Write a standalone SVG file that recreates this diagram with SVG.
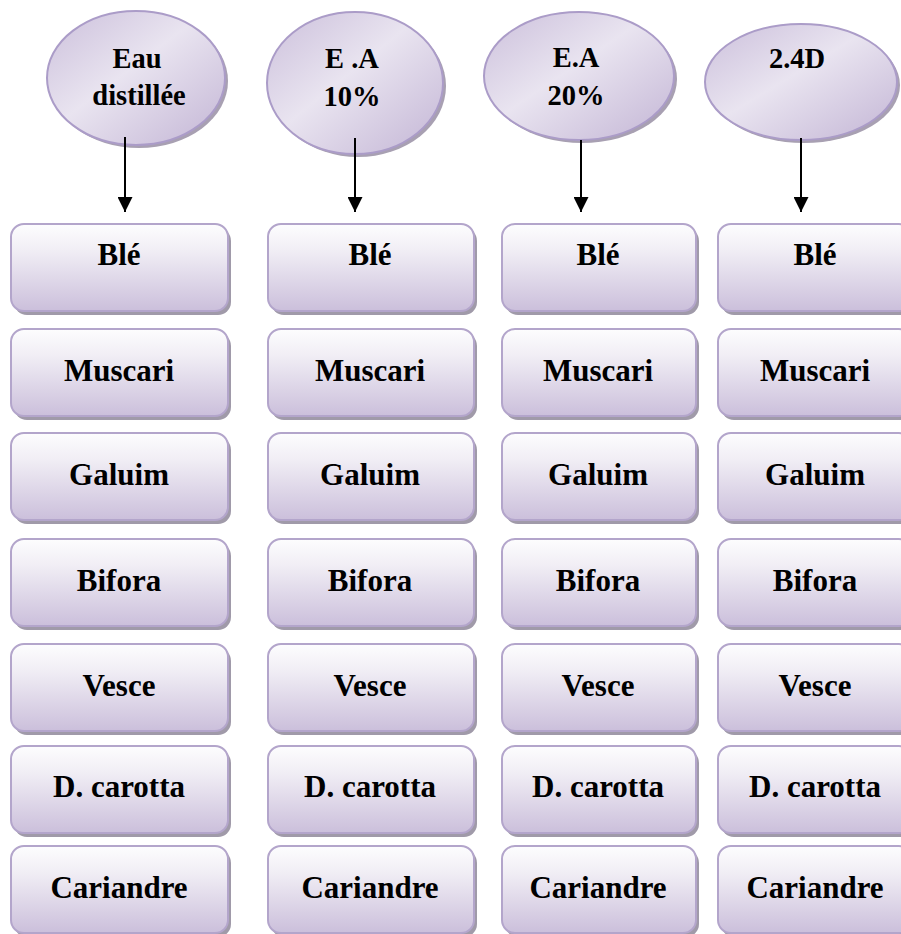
<svg xmlns="http://www.w3.org/2000/svg" width="901" height="934" viewBox="0 0 901 934">
<defs>
<linearGradient id="boxg" x1="0" y1="0" x2="0" y2="1">
<stop offset="0" stop-color="#fdfdfe"/>
<stop offset="0.3" stop-color="#f1eef5"/>
<stop offset="1" stop-color="#cbbfdb"/>
</linearGradient>
<linearGradient id="ellg" x1="0" y1="0" x2="1" y2="1">
<stop offset="0" stop-color="#cbbfdb"/>
<stop offset="0.45" stop-color="#e9e4f0"/>
<stop offset="1" stop-color="#c3b5d5"/>
</linearGradient>
<marker id="arr" viewBox="0 0 14 14" markerWidth="15" markerHeight="15" refX="14" refY="7" orient="auto" markerUnits="userSpaceOnUse">
<path d="M0,0 L14,7 L0,14 Z" fill="#000"/>
</marker>
</defs>
<style>
.box{fill:url(#boxg);stroke:#b3a5cb;stroke-width:2}
.sh{fill:#a09aa9}
.ell{fill:url(#ellg);stroke:#ab9cc8;stroke-width:2}
.esh{fill:#a8a0b2}
.t{font-family:"Liberation Serif","Times New Roman",serif;font-weight:bold;font-size:31px;fill:#000;text-anchor:middle}
.te{font-family:"Liberation Serif","Times New Roman",serif;font-weight:bold;font-size:28.5px;fill:#000;text-anchor:middle}
.c{stroke:#000;stroke-width:2;fill:none}
</style>

<g id="e1"><ellipse class="esh" cx="139" cy="81" rx="89" ry="67"/><ellipse class="ell" cx="136" cy="78" rx="89" ry="67"/><text class="te" x="137" y="68">Eau</text><text class="te" x="139" y="105">distillée</text></g>
<g id="e2"><ellipse class="esh" cx="358" cy="86" rx="88" ry="71"/><ellipse class="ell" cx="355" cy="83" rx="88" ry="71"/><text class="te" x="352" y="68">E .A</text><text class="te" x="352" y="106">10%</text></g>
<g id="e3"><ellipse class="esh" cx="582" cy="79" rx="95" ry="64"/><ellipse class="ell" cx="579" cy="76" rx="95" ry="64"/><text class="te" x="576" y="67">E.A</text><text class="te" x="576" y="105">20%</text></g>
<g id="e4"><ellipse class="esh" cx="804" cy="85" rx="96" ry="58"/><ellipse class="ell" cx="801" cy="82" rx="96" ry="58"/><text class="te" x="797" y="68">2.4D</text></g>

<g id="connectors">
<line class="c" x1="125" y1="137" x2="125" y2="212" marker-end="url(#arr)"/>
<line class="c" x1="355" y1="138" x2="355" y2="212" marker-end="url(#arr)"/>
<line class="c" x1="581" y1="140" x2="581" y2="212" marker-end="url(#arr)"/>
<line class="c" x1="801" y1="138" x2="801" y2="212" marker-end="url(#arr)"/>
</g>

<!-- column 1 -->
<g id="c1r1"><rect class="sh" x="14" y="228" width="217" height="87" rx="13"/><rect class="box" x="11" y="224" width="217" height="87" rx="13"/><text class="t" x="119" y="265">Blé</text></g>
<g id="c1r2"><rect class="sh" x="14" y="333" width="217" height="87" rx="13"/><rect class="box" x="11" y="329" width="217" height="87" rx="13"/><text class="t" x="119" y="381">Muscari</text></g>
<g id="c1r3"><rect class="sh" x="14" y="437" width="217" height="87" rx="13"/><rect class="box" x="11" y="433" width="217" height="87" rx="13"/><text class="t" x="119" y="485">Galuim</text></g>
<g id="c1r4"><rect class="sh" x="14" y="543" width="217" height="87" rx="13"/><rect class="box" x="11" y="539" width="217" height="87" rx="13"/><text class="t" x="119" y="591">Bifora</text></g>
<g id="c1r5"><rect class="sh" x="14" y="648" width="217" height="87" rx="13"/><rect class="box" x="11" y="644" width="217" height="87" rx="13"/><text class="t" x="119" y="696">Vesce</text></g>
<g id="c1r6"><rect class="sh" x="14" y="750" width="217" height="87" rx="13"/><rect class="box" x="11" y="746" width="217" height="87" rx="13"/><text class="t" x="119" y="797">D. carotta</text></g>
<g id="c1r7"><rect class="sh" x="14" y="850" width="217" height="87" rx="13"/><rect class="box" x="11" y="846" width="217" height="87" rx="13"/><text class="t" x="119" y="898">Cariandre</text></g>

<!-- column 2 -->
<g id="c2r1"><rect class="sh" x="271" y="228" width="206" height="87" rx="13"/><rect class="box" x="268" y="224" width="206" height="87" rx="13"/><text class="t" x="370" y="265">Blé</text></g>
<g id="c2r2"><rect class="sh" x="271" y="333" width="206" height="87" rx="13"/><rect class="box" x="268" y="329" width="206" height="87" rx="13"/><text class="t" x="370" y="381">Muscari</text></g>
<g id="c2r3"><rect class="sh" x="271" y="437" width="206" height="87" rx="13"/><rect class="box" x="268" y="433" width="206" height="87" rx="13"/><text class="t" x="370" y="485">Galuim</text></g>
<g id="c2r4"><rect class="sh" x="271" y="543" width="206" height="87" rx="13"/><rect class="box" x="268" y="539" width="206" height="87" rx="13"/><text class="t" x="370" y="591">Bifora</text></g>
<g id="c2r5"><rect class="sh" x="271" y="648" width="206" height="87" rx="13"/><rect class="box" x="268" y="644" width="206" height="87" rx="13"/><text class="t" x="370" y="696">Vesce</text></g>
<g id="c2r6"><rect class="sh" x="271" y="750" width="206" height="87" rx="13"/><rect class="box" x="268" y="746" width="206" height="87" rx="13"/><text class="t" x="370" y="797">D. carotta</text></g>
<g id="c2r7"><rect class="sh" x="271" y="850" width="206" height="87" rx="13"/><rect class="box" x="268" y="846" width="206" height="87" rx="13"/><text class="t" x="370" y="898">Cariandre</text></g>

<!-- column 3 -->
<g id="c3r1"><rect class="sh" x="505" y="228" width="194" height="87" rx="13"/><rect class="box" x="502" y="224" width="194" height="87" rx="13"/><text class="t" x="598" y="265">Blé</text></g>
<g id="c3r2"><rect class="sh" x="505" y="333" width="194" height="87" rx="13"/><rect class="box" x="502" y="329" width="194" height="87" rx="13"/><text class="t" x="598" y="381">Muscari</text></g>
<g id="c3r3"><rect class="sh" x="505" y="437" width="194" height="87" rx="13"/><rect class="box" x="502" y="433" width="194" height="87" rx="13"/><text class="t" x="598" y="485">Galuim</text></g>
<g id="c3r4"><rect class="sh" x="505" y="543" width="194" height="87" rx="13"/><rect class="box" x="502" y="539" width="194" height="87" rx="13"/><text class="t" x="598" y="591">Bifora</text></g>
<g id="c3r5"><rect class="sh" x="505" y="648" width="194" height="87" rx="13"/><rect class="box" x="502" y="644" width="194" height="87" rx="13"/><text class="t" x="598" y="696">Vesce</text></g>
<g id="c3r6"><rect class="sh" x="505" y="750" width="194" height="87" rx="13"/><rect class="box" x="502" y="746" width="194" height="87" rx="13"/><text class="t" x="598" y="797">D. carotta</text></g>
<g id="c3r7"><rect class="sh" x="505" y="850" width="194" height="87" rx="13"/><rect class="box" x="502" y="846" width="194" height="87" rx="13"/><text class="t" x="598" y="898">Cariandre</text></g>

<!-- column 4 -->
<g id="c4r1"><rect class="sh" x="721" y="228" width="194" height="87" rx="13"/><rect class="box" x="718" y="224" width="194" height="87" rx="13"/><text class="t" x="815" y="265">Blé</text></g>
<g id="c4r2"><rect class="sh" x="721" y="333" width="194" height="87" rx="13"/><rect class="box" x="718" y="329" width="194" height="87" rx="13"/><text class="t" x="815" y="381">Muscari</text></g>
<g id="c4r3"><rect class="sh" x="721" y="437" width="194" height="87" rx="13"/><rect class="box" x="718" y="433" width="194" height="87" rx="13"/><text class="t" x="815" y="485">Galuim</text></g>
<g id="c4r4"><rect class="sh" x="721" y="543" width="194" height="87" rx="13"/><rect class="box" x="718" y="539" width="194" height="87" rx="13"/><text class="t" x="815" y="591">Bifora</text></g>
<g id="c4r5"><rect class="sh" x="721" y="648" width="194" height="87" rx="13"/><rect class="box" x="718" y="644" width="194" height="87" rx="13"/><text class="t" x="815" y="696">Vesce</text></g>
<g id="c4r6"><rect class="sh" x="721" y="750" width="194" height="87" rx="13"/><rect class="box" x="718" y="746" width="194" height="87" rx="13"/><text class="t" x="815" y="797">D. carotta</text></g>
<g id="c4r7"><rect class="sh" x="721" y="850" width="194" height="87" rx="13"/><rect class="box" x="718" y="846" width="194" height="87" rx="13"/><text class="t" x="815" y="898">Cariandre</text></g>
</svg>
